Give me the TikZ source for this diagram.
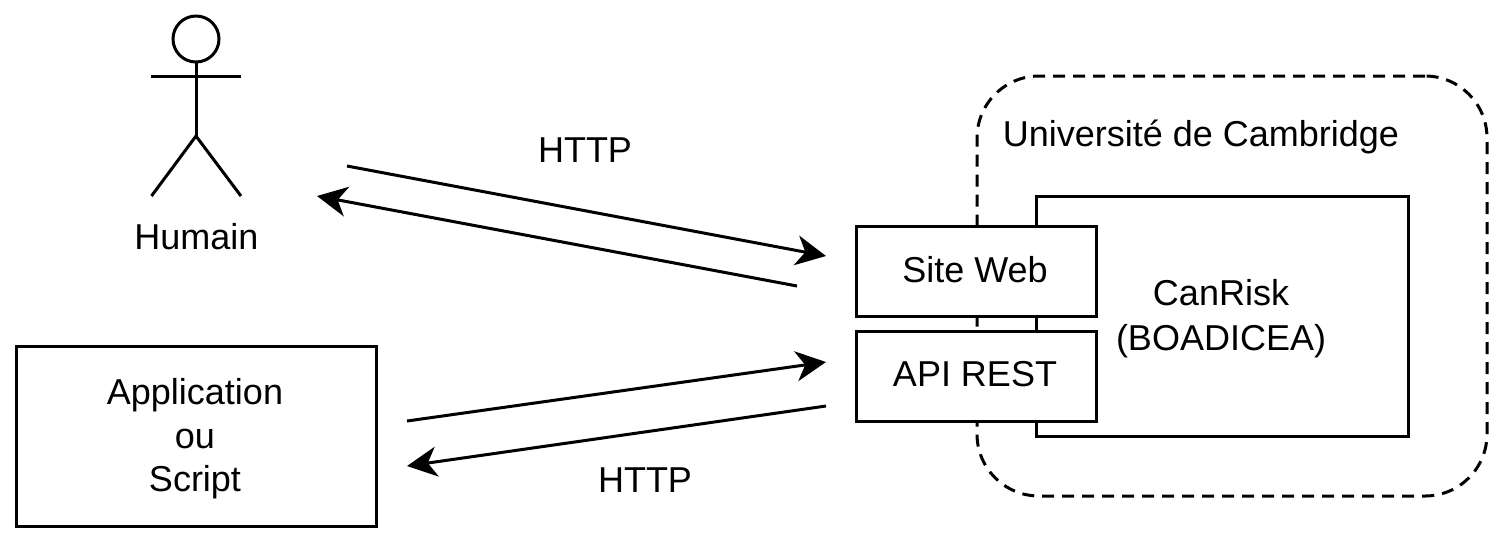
\documentclass[tikz,border=0pt]{standalone}
\usepackage{fontspec}
\setmainfont{Liberation Sans}
\usetikzlibrary{arrows.meta,positioning}

\begin{document}
\begin{tikzpicture}[
            x=0.5pt, y=-0.5pt,
            font=\fontsize{18}{22.5}\selectfont,
            line width=1.5pt,
            box/.style={draw, fill=white, align=center, outer sep=0pt},
            site/.style={box, minimum width=120pt, minimum height=45pt},
            label/.style={align=center, inner sep=0pt},
            arrow/.style={-{Stealth[length=15pt, width=15pt, inset=4.5pt]}}
        ]
            \path[use as bounding box] (0,0) rectangle (1503,543);

            % Cambridge
            \node[draw, dash pattern=on 6pt off 4pt, rounded corners=31pt, minimum width=255pt, minimum height=210pt, outer sep=0pt] (cambridge) at (1232,286) {};
            \node[label] (univ) at (1201,137) {Université de Cambridge};
            \node[box, minimum width=186pt, minimum height=120pt] (canrisk) at (1222.5,316) {};
            \node[label] (canrisktext) at (1221,319) {CanRisk\\(BOADICEA)};
            \node[site] (web) at (976.5,271) {};
            \node[site, below=7.5pt of web] (api) {};
            \node[label] (webtext) at (975,270) {Site Web};
            \node[label] (apitext) at (975,374) {API REST};

            % Humain
            \node[draw, circle, minimum size=23pt, inner sep=0pt, outer sep=0pt] (head) at (196,39) {};
            \coordinate (hip) at (196,136);
            \coordinate (handl) at (151,76);
            \coordinate (handr) at (241,76);
            \coordinate (footl) at (151.5,196);
            \coordinate (footr) at (241,196);
            \draw (head.south) -- (hip);
            \draw (handl) -- (handr);
            \draw (footl) -- (hip) -- (footr);
            \node[label] (humain) at (196.5,237) {Humain};

            % Application
            \node[box, minimum width=180pt, minimum height=90pt] (app) at (196.5,436) {};
            \node[label, font=\fontsize{18}{21.8}\selectfont] (apptext) at (195,439) {Application\\ou\\Script};

            % HTTP
            \coordinate (a1) at (347,166);
            \coordinate (a2) at (826,256);
            \coordinate (b1) at (797,286);
            \coordinate (b2) at (317,196);
            \coordinate (c1) at (407,421);
            \coordinate (c2) at (826,362);
            \coordinate (d1) at (826,406);
            \coordinate (d2) at (407,466);
            \draw[arrow] (a1) -- (a2);
            \draw[arrow] (b1) -- (b2);
            \draw[arrow] (c1) -- (c2);
            \draw[arrow] (d1) -- (d2);
            \node[label] (http1) at (585,150) {HTTP};
            \node[label] (http2) at (645,480) {HTTP};
        \end{tikzpicture}
\end{document}
